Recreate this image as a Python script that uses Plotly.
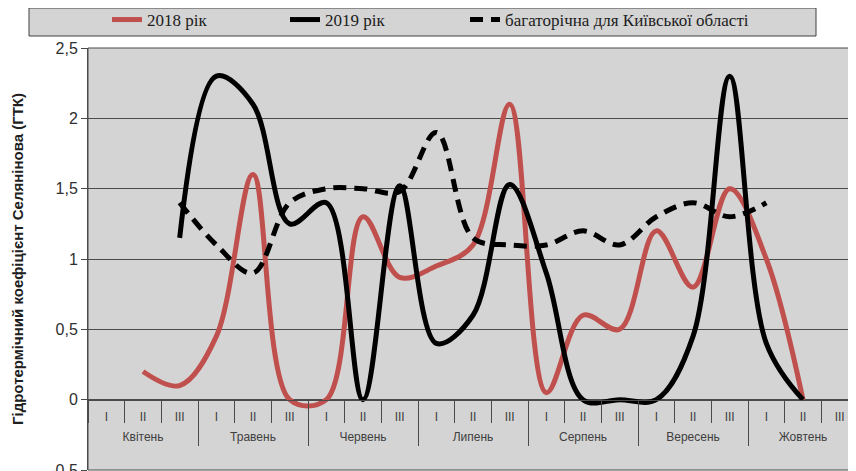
import plotly.graph_objects as go

months = ["Квітень", "Травень", "Червень", "Липень", "Серпень", "Вересень", "Жовтень"]
decades = ["I", "II", "III"]
periods = [f"{m} {d}" for m in months for d in decades]   # 21 decade categories
decade_labels = decades * len(months)

gtk_2018 = [None, 0.2, 0.1, 0.45, 1.6, 0.0, 0.0, 1.3, 0.87, 0.95, 1.1, 2.1,
            0.05, 0.6, 0.5, 1.2, 0.8, 1.5, 1.0, 0.0, None]
gtk_2019 = [None, None, 1.15, 2.3, 2.1, 1.25, 1.4, 0.0, 1.52, 0.4, 0.6, 1.53,
            0.9, 0.0, 0.0, 0.0, 0.45, 2.3, 0.4, 0.0, None]
gtk_norm = [None, None, 1.4, 1.1, 0.9, 1.4, 1.5, 1.5, 1.48, 1.9, 1.15, 1.1,
            1.1, 1.2, 1.1, 1.3, 1.4, 1.3, 1.4, None, None]

y_ticks = [-0.5, 0, 0.5, 1, 1.5, 2, 2.5]
y_labels = ["-0,5", "0", "0,5", "1", "1,5", "2", "2,5"]

n = len(periods)
nd = len(decades)
month_centers = [periods.index(f"{m} {decades[1]}") for m in months]
month_bounds = [i * nd - 0.5 for i in range(1, len(months))]

fig = go.Figure()
fig.add_trace(go.Scatter(x=periods, y=gtk_2018, name="2018 рік", mode="lines", legend="legend",
                         line=dict(color="#C0504D", width=5, shape="spline", smoothing=1.0)))
fig.add_trace(go.Scatter(x=periods, y=gtk_2019, name="2019 рік", mode="lines", legend="legend2",
                         line=dict(color="#000000", width=5, shape="spline", smoothing=1.0)))
fig.add_trace(go.Scatter(x=periods, y=gtk_norm, name="багаторічна для Київської області",
                         mode="lines", legend="legend3",
                         line=dict(color="#000000", width=5, shape="spline", smoothing=1.0,
                                   dash="13px,8px")))
# empty carrier trace so the month-level axis is drawn
fig.add_trace(go.Scatter(x=month_centers, y=[None] * len(months), xaxis="x2", mode="lines",
                         showlegend=False, hoverinfo="skip"))

grid = "#4a4a4a"
OFF = 8  # page offset of the figure (body margin)
W, H = 850, 478
L, T, R, B = 80, 40, 0, 16
PW, PH = W - L - R, H - T - B


def px(page_x):
    return (page_x - OFF - L) / PW


def py(page_y):
    return 1 + (T - (page_y - OFF)) / PH


def leg(text_left):
    return dict(orientation="h", x=px(text_left - 40), y=py(2),
                xanchor="left", yanchor="top",
                bgcolor="rgba(0,0,0,0)", borderwidth=0,
                font=dict(family="Liberation Serif, Times New Roman", size=17, color="#202020"))


xrange = [-0.5, n - 0.5]
y0_pos = 0.5 / 3

fig.update_layout(
    width=W, height=H,
    margin=dict(l=L, r=R, t=T, b=B, autoexpand=False),
    paper_bgcolor="white",
    plot_bgcolor="#D4D4D4",
    font=dict(family="Liberation Sans, Arial", color="#404040"),
    showlegend=True,
    legend=leg(147),
    legend2=leg(325),
    legend3=leg(505),
    xaxis=dict(type="category", categoryorder="array", categoryarray=periods, range=xrange,
               anchor="free", position=y0_pos,
               tickvals=periods, ticktext=decade_labels,
               showgrid=False, showline=True, linecolor=grid, linewidth=1,
               ticks="outside", tickson="boundaries", ticklen=22, tickcolor=grid,
               ticklabelstandoff=6,
               tickfont=dict(size=12, color="#404040")),
    xaxis2=dict(overlaying="x", type="linear", range=xrange,
                anchor="free", position=y0_pos,
                tickvals=month_centers, ticktext=months,
                showgrid=False, showline=False, zeroline=False,
                ticks="", ticklabelstandoff=28,
                minor=dict(tickvals=month_bounds, ticks="outside", ticklen=45,
                           tickcolor=grid, showgrid=False),
                tickfont=dict(size=12, color="#404040")),
    yaxis=dict(range=[-0.5, 2.5], tickvals=y_ticks, ticktext=y_labels,
               showgrid=True, gridcolor=grid, gridwidth=1, zeroline=False,
               showline=True, linecolor=grid, linewidth=1,
               ticks="outside", ticklen=6, tickcolor=grid,
               tickfont=dict(size=16, color="#303030"),
               title=dict(text="<b>Гідротермічний коефіцієнт Селянінова (ГТК)</b>",
                          font=dict(size=15, color="#202020"), standoff=22)),
    shapes=[
        dict(type="rect", xref="paper", yref="paper", x0=px(29), x1=px(816),
             y0=py(36), y1=py(8),
             fillcolor="#D4D4D4", line=dict(color="#404040", width=1), layer="below"),
        dict(type="rect", xref="paper", yref="paper", x0=0, x1=1, y0=0, y1=1,
             line=dict(color=grid, width=1), fillcolor="rgba(0,0,0,0)", layer="below"),
    ],
)

fig.write_html("out.html")
